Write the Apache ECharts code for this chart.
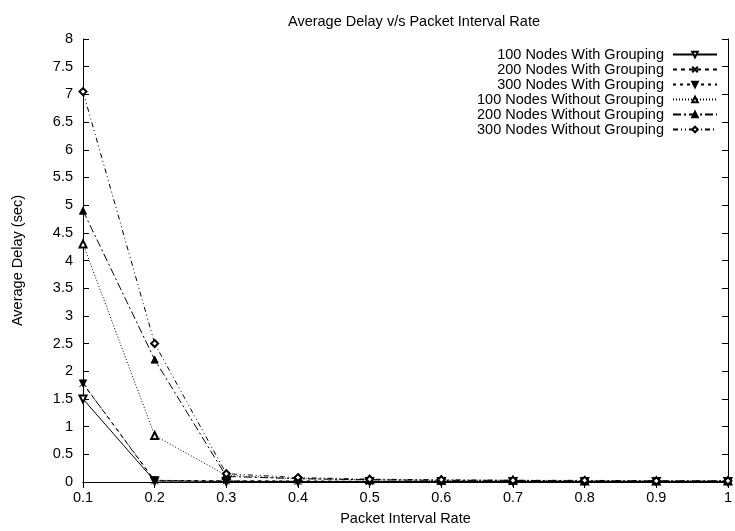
<!DOCTYPE html>
<html>
<head>
<meta charset="utf-8">
<script src="https://cdn.jsdelivr.net/npm/echarts@6/dist/echarts.min.js"></script>
<style>html,body{margin:0;padding:0;background:#fff}#c{width:735px;height:531px}</style>
</head>
<body>
<div id="c"></div>
<script>
var categories = ['0.1','0.2','0.3','0.4','0.5','0.6','0.7','0.8','0.9','1'];
var yTicks = ['0','0.5','1','1.5','2','2.5','3','3.5','4','4.5','5','5.5','6','6.5','7','7.5','8'];
var seriesNames = ['100 Nodes With Grouping','200 Nodes With Grouping','300 Nodes With Grouping',
  '100 Nodes Without Grouping','200 Nodes Without Grouping','300 Nodes Without Grouping'];
var g100  = [1.50, 0.02, 0.01, 0.01, 0.01, 0.01, 0.01, 0.01, 0.01, 0.01];
var g200  = [1.78, 0.02, 0.02, 0.01, 0.01, 0.01, 0.01, 0.01, 0.01, 0.01];
var g300  = [1.78, 0.03, 0.02, 0.02, 0.01, 0.01, 0.01, 0.01, 0.01, 0.01];
var ng100 = [4.30, 0.84, 0.12, 0.06, 0.04, 0.03, 0.03, 0.02, 0.02, 0.02];
var ng200 = [4.90, 2.21, 0.10, 0.06, 0.04, 0.03, 0.03, 0.02, 0.02, 0.02];
var ng300 = [7.05, 2.50, 0.15, 0.08, 0.05, 0.04, 0.03, 0.03, 0.02, 0.02];

var FONT = 'Liberation Sans';
var FS = 14.5;
var crossPath = 'path://M0,0L10,10M10,0L0,10';

function mk(name, data, dash, symbol, rotate) {
  return {
    name: name, type: 'line', data: data,
    symbol: symbol, symbolSize: 7, symbolRotate: rotate, showSymbol: true,
    lineStyle: { color: '#000', width: 1, type: dash },
    itemStyle: { color: '#000', borderColor: '#000', borderWidth: 1 },
    animation: false
  };
}

var chart = echarts.init(document.getElementById('c'));
chart.setOption({
  backgroundColor: '#fff',
  animation: false,
  title: {
    text: 'Average Delay v/s Packet Interval Rate',
    left: 409, top: 9, textAlign: 'center',
    textStyle: { fontFamily: FONT, fontSize: FS, fontWeight: 'normal', color: '#000' }
  },
  legend: {
    orient: 'vertical', right: 12, top: 42, align: 'right',
    itemWidth: 44, itemHeight: 7, itemGap: 0,
    selectedMode: false,
    textStyle: { fontFamily: FONT, fontSize: FS, color: '#000', width: 192, align: 'right',
      lineHeight: 15, padding: [0, 4, 0, 0] },
    data: seriesNames
  },
  grid: { left: 83, right: 0, top: 39, bottom: 47 },
  xAxis: [{
    type: 'category', data: categories, boundaryGap: false,
    name: 'Packet Interval Rate', nameLocation: 'middle', nameGap: 29,
    nameTextStyle: { fontFamily: FONT, fontSize: FS, color: '#000' },
    axisLine: { lineStyle: { color: '#000', width: 1 } },
    axisTick: { inside: true, length: 6, lineStyle: { color: '#000' } },
    axisLabel: { fontFamily: FONT, fontSize: FS, color: '#000', margin: 8 },
    splitLine: { show: false }
  }, {
    type: 'category', data: categories, boundaryGap: false, position: 'top',
    axisLine: { lineStyle: { color: '#000', width: 1 } },
    axisTick: { inside: true, length: 6, lineStyle: { color: '#000' } },
    axisLabel: { show: false }, splitLine: { show: false }
  }],
  yAxis: [{
    type: 'value', min: 0, max: 8, interval: 0.5,
    name: 'Average Delay (sec)', nameLocation: 'middle', nameGap: 58,
    nameTextStyle: { fontFamily: FONT, fontSize: FS, color: '#000' },
    axisLine: { show: true, lineStyle: { color: '#000', width: 1 } },
    axisTick: { show: true, inside: true, length: 6, lineStyle: { color: '#000' } },
    axisLabel: { fontFamily: FONT, fontSize: FS, color: '#000', margin: 10,
      formatter: function (v) { return yTicks[Math.round(v * 2)]; } },
    splitLine: { show: false }
  }, {
    type: 'value', min: 0, max: 8, interval: 0.5, position: 'right',
    axisLine: { show: true, lineStyle: { color: '#000', width: 1 } },
    axisTick: { show: true, inside: true, length: 6, lineStyle: { color: '#000' } },
    axisLabel: { show: false }, splitLine: { show: false }
  }],
  series: [
    mk(seriesNames[0], g100, 'solid', 'emptyTriangle', 180),
    mk(seriesNames[1], g200, [4, 4], crossPath, 0),
    mk(seriesNames[2], g300, [3, 4], 'triangle', 180),
    mk(seriesNames[3], ng100, [1, 2], 'emptyTriangle', 0),
    mk(seriesNames[4], ng200, [8, 3, 2, 3], 'triangle', 0),
    mk(seriesNames[5], ng300, [5, 3, 1, 3, 1, 3], 'emptyDiamond', 0)
  ]
});
</script>
</body>
</html>
